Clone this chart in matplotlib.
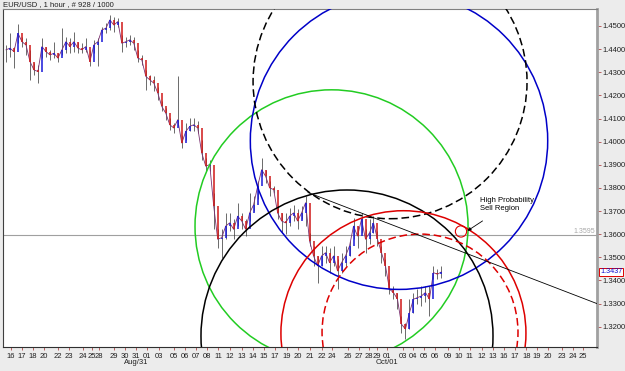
import numpy as np
import matplotlib
matplotlib.use('Agg')
import matplotlib.pyplot as plt
from matplotlib.patches import Ellipse
import matplotlib.transforms as mtransforms

plt.rcParams['font.family'] = ['Liberation Sans', 'DejaVu Sans']

title = "EUR/USD , 1 hour , # 928 / 1000"
sample_step = 8.5  # hourly bars between sampled points

closes = [1.4397,1.4404,1.4389,1.4468,1.4432,1.4418,1.4346,1.4310,1.4303,1.4411,
          1.4389,1.4375,1.4382,1.4361,1.4397,1.4432,1.4411,1.4432,1.4404,1.4397,
          1.4411,1.4346,1.4418,1.4432,1.4483,1.4490,1.4526,1.4504,1.4519,1.4425,
          1.4432,1.4440,1.4425,1.4361,1.4353,1.4282,1.4267,1.4253,1.4210,1.4152,
          1.4123,1.4073,1.4059,1.4095,1.3994,1.4044,1.4066,1.4073,1.4059,1.3951,
          1.3894,1.3901,1.3721,1.3578,1.3585,1.3635,1.3649,1.3621,1.3678,1.3657,
          1.3621,1.3692,1.3728,1.3807,1.3879,1.3850,1.3800,1.3793,1.3692,1.3657,
          1.3649,1.3678,1.3692,1.3657,1.3692,1.3736,1.3570,1.3506,1.3463,1.3506,
          1.3520,1.3477,1.3506,1.3441,1.3477,1.3506,1.3549,1.3635,1.3592,1.3664,
          1.3578,1.3606,1.3649,1.3578,1.3520,1.3463,1.3362,1.3348,1.3319,1.3211,
          1.3190,1.3261,1.3319,1.3326,1.3333,1.3348,1.3319,1.3434,1.3427,1.3437]

highs = [1.4418,1.4468,1.4411,1.4509,1.4454,1.4447,1.4397,1.4339,1.4332,1.4447,
         1.4411,1.4397,1.4432,1.4382,1.4490,1.4454,1.4447,1.4476,1.4432,1.4425,
         1.4447,1.4397,1.4440,1.4447,1.4497,1.4511,1.4547,1.4540,1.4533,1.4461,
         1.4454,1.4461,1.4454,1.4397,1.4375,1.4310,1.4289,1.4282,1.4238,1.4174,
         1.4145,1.4102,1.4080,1.4282,1.4030,1.4080,1.4102,1.4102,1.4088,1.4009,
         1.3930,1.3922,1.3779,1.3621,1.3621,1.3692,1.3692,1.3664,1.3736,1.3692,
         1.3664,1.3779,1.3764,1.3829,1.3930,1.3879,1.3829,1.3807,1.3721,1.3692,
         1.3692,1.3714,1.3728,1.3707,1.3721,1.3764,1.3606,1.3549,1.3506,1.3549,
         1.3549,1.3542,1.3549,1.3491,1.3520,1.3549,1.3570,1.3671,1.3635,1.3692,
         1.3621,1.3664,1.3678,1.3613,1.3549,1.3491,1.3405,1.3376,1.3348,1.3247,
         1.3218,1.3319,1.3348,1.3362,1.3376,1.3376,1.3376,1.3463,1.3448,1.3463]

lows = [1.4346,1.4368,1.4317,1.4425,1.4411,1.4375,1.4267,1.4289,1.4253,1.4361,
        1.4368,1.4353,1.4361,1.4346,1.4375,1.4382,1.4382,1.4389,1.4382,1.4382,
        1.4389,1.4325,1.4382,1.4325,1.4468,1.4468,1.4483,1.4476,1.4497,1.4389,
        1.4411,1.4418,1.4397,1.4346,1.4332,1.4224,1.4246,1.4217,1.4181,1.4131,
        1.4095,1.4052,1.4037,1.4066,1.3973,1.4009,1.4044,1.4044,1.4037,1.3922,
        1.3872,1.3872,1.3621,1.3542,1.3499,1.3578,1.3613,1.3578,1.3635,1.3621,
        1.3592,1.3657,1.3700,1.3750,1.3850,1.3822,1.3764,1.3779,1.3664,1.3606,
        1.3599,1.3635,1.3657,1.3621,1.3664,1.3635,1.3549,1.3463,1.3391,1.3463,
        1.3477,1.3434,1.3463,1.3362,1.3434,1.3463,1.3506,1.3578,1.3542,1.3606,
        1.3520,1.3556,1.3606,1.3549,1.3477,1.3420,1.3340,1.3319,1.3276,1.3175,
        1.3147,1.3190,1.3261,1.3297,1.3290,1.3305,1.3247,1.3405,1.3405,1.3412]

tick_bars = [11, 34, 57, 81, 111, 134, 164, 183, 198, 230, 253, 277, 300, 326, 358,
             381, 404, 428, 451, 477, 502, 526, 549, 572, 598, 621, 647, 672, 694,
             728, 751, 772, 789, 811, 845, 866, 890, 913, 941, 964, 987, 1013, 1036,
             1060, 1083, 1107, 1130, 1153, 1183, 1207, 1228]
tick_labels = ['16','17','18','20','22','23','24','25','28','29','30','31','01','03',
               '05','06','07','08','11','12','13','14','15','17','19','20','21','22',
               '24','26','27','28','29','01','03','04','05','06','09','10','11','12',
               '13','16','17','18','19','20','23','24','25']
month_bars = [277, 811]
month_labels = ['Aug/31', 'Oct/01']

price_ticks = [1.3200, 1.3300, 1.3400, 1.3500, 1.3600, 1.3700, 1.3800,
               1.3900, 1.4000, 1.4100, 1.4200, 1.4300, 1.4400, 1.4500]
level_price = 1.3595
last_price = 1.3437

circle_x = [692.7, 836.3, 817.2, 725.6, 845.7, 881.0, 968.2]
circle_y = [1.3634, 1.4004, 1.4259, 1.3160, 1.3172, 1.3177, 1.3612]
circle_r = [290.5, 316.4, 291.5, 310.7, 260.7, 208.5, 12.0]
circle_colors = ['#22cc22', '#0000c8', 'black', 'black', '#dd0000', '#dd0000', '#dd0000']
circle_styles = ['solid', 'solid', 'dashed', 'solid', 'solid', 'dashed', 'solid']

trend_x = [642.7, 1257.6]
trend_y = [1.3780, 1.3300]

note_text = "High Probability\nSell Region"
note_xy = (1008.0, 1.3728)
arrow_tail = (1019.0, 1.3664)
arrow_tip = (977.0, 1.3608)

W, H = 625, 371
fig = plt.figure(figsize=(W / 100, H / 100), dpi=100, facecolor='#ececec')
ax_l, ax_r, ax_t, ax_b = 3, 597, 9, 347
ax = fig.add_axes([ax_l / W, 1 - ax_b / H, (ax_r - ax_l) / W, (ax_b - ax_t) / H])
ax.set_facecolor('white')
x0, x1 = -6.4, 1257.6
y0, y1 = 1.31125, 1.45733
ax.set_xlim(x0, x1)
ax.set_ylim(y0, y1)

bars = np.arange(len(closes)) * sample_step
c = np.array(closes); hi = np.array(highs); lo = np.array(lows)
opens = np.concatenate([[c[0]], c[:-1]])

# wicks
ax.vlines(bars, lo, hi, colors='#303030', linewidth=0.5, zorder=2)
# bodies
up = c >= opens
ax.vlines(bars[up], opens[up], c[up], colors='#1818d8', linewidth=1.1, zorder=3)
ax.vlines(bars[~up], c[~up], opens[~up], colors='#d01818', linewidth=1.1, zorder=3)
ax.plot(bars, c, color='#7a3070', linewidth=0.6, zorder=2.5)

# horizontal level
ax.axhline(level_price, color='#a0a0a0', linewidth=0.8, zorder=1)
ax.text(0.997, level_price, f"{level_price:.4f}",
        transform=mtransforms.blended_transform_factory(ax.transAxes, ax.transData),
        ha='right', va='bottom', fontsize=5, color='#a8a8a8')

# circles (round on screen)
sx = (ax_r - ax_l) / (x1 - x0)
sy = (ax_b - ax_t) / (y1 - y0)
for cx, cy, r, col, ls in zip(circle_x, circle_y, circle_r, circle_colors, circle_styles):
    e = Ellipse((cx, cy), 2 * r, 2 * r * sx / sy, fill=False, edgecolor=col,
                linewidth=1.1 if r > 50 else 0.8,
                linestyle=(0, (5, 2.5)) if ls == 'dashed' else '-', zorder=4)
    ax.add_patch(e)

# trend line
ax.plot(trend_x, trend_y, color='black', linewidth=0.6, zorder=4)

# annotation
ax.text(note_xy[0], note_xy[1], note_text, fontsize=5.5, ha='left', va='center', zorder=6)
ax.annotate('', xy=arrow_tip, xytext=arrow_tail,
            arrowprops=dict(arrowstyle='-|>', color='black', lw=0.6, mutation_scale=5), zorder=6)

# axes styling
ax.yaxis.tick_right()
ax.set_yticks(price_ticks)
ax.set_yticklabels([f"{p:.4f}" for p in price_ticks])
ax.set_xticks(tick_bars)
ax.set_xticklabels(tick_labels)
ax.tick_params(axis='y', direction='out', length=3, width=0.6, color='#b04848',
               labelsize=5.5, pad=1, labelcolor='#202020')
ax.tick_params(axis='x', direction='out', length=2, width=0.6, color='#b04848',
               labelsize=5.5, pad=2, labelcolor='#202020')
for lab, mb in zip(month_labels, month_bars):
    ax.text(mb, -0.045, lab, transform=mtransforms.blended_transform_factory(ax.transData, ax.transAxes),
            ha='center', va='center', fontsize=5.5, color='#202020')

ax.spines['left'].set_color('#404040')
ax.spines['left'].set_linewidth(0.8)
ax.spines['top'].set_color('#808080')
ax.spines['top'].set_linewidth(0.8)
ax.spines['right'].set_color('#a0a0a0')
ax.spines['right'].set_linewidth(2.0)
ax.spines['bottom'].set_color('#303030')
ax.spines['bottom'].set_linewidth(0.8)

# last price box
ax.text(1.005, last_price, f"{last_price:.4f}",
        transform=mtransforms.blended_transform_factory(ax.transAxes, ax.transData),
        ha='left', va='center', fontsize=5.2, color='#1010d0',
        bbox=dict(boxstyle='square,pad=0.12', facecolor='white', edgecolor='#dd0000', linewidth=0.7),
        clip_on=False, zorder=10)

fig.text(3 / W, 1 - 4.5 / H, title, ha='left', va='center', fontsize=5.5, color='#202020')

fig.savefig('out.png', dpi=100, facecolor=fig.get_facecolor())
